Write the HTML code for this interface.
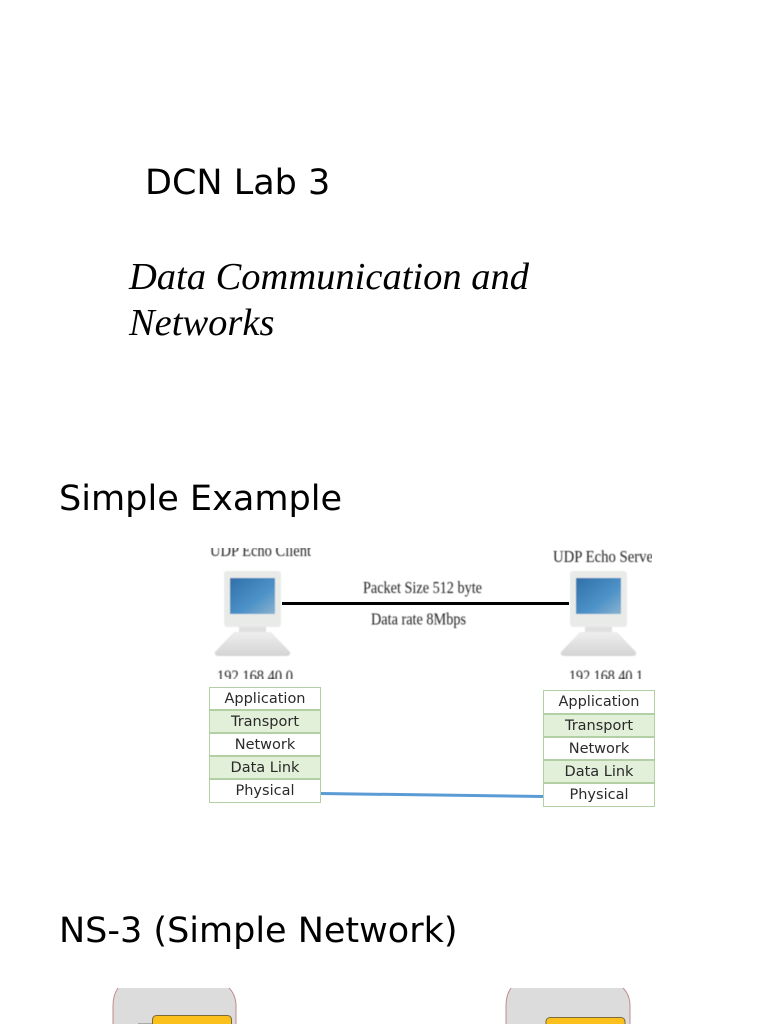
<!DOCTYPE html>
<html>
<head>
<meta charset="utf-8">
<style>
html,body{margin:0;padding:0;background:#fff;}
#p{position:relative;width:768px;height:1024px;overflow:hidden;background:#fff;}
.t{position:absolute;white-space:nowrap;color:#000;font-family:"DejaVu Sans",sans-serif;line-height:1;}
.s{position:absolute;width:112px;height:22px;box-sizing:border-box;border:1px solid #b2d0a4;text-align:center;font:14.5px/23px "DejaVu Sans",sans-serif;color:#2a2a2a;background:#fff;white-space:nowrap;filter:blur(.25px);}
.g{background:#e2efd9;}
svg{position:absolute;left:0;top:0;}
svg text{font-family:"Liberation Serif",serif;fill:#222;}
</style>
</head>
<body>
<div id="p">
<div class="t" style="left:145px;top:166px;font-size:35px;">DCN Lab 3</div>
<div class="t" style="left:129px;top:254px;font:italic 38.5px/46px 'Liberation Serif',serif;">Data Communication and<br>Networks</div>
<div class="t" style="left:59px;top:481px;font-size:35.1px;">Simple Example</div>
<div class="t" style="left:59px;top:914px;font-size:35px;">NS-3 (Simple Network)</div>

<svg width="768" height="1024" viewBox="0 0 768 1024">
<defs>
<linearGradient id="sc" x1="0" y1="0" x2="1" y2="1"><stop offset="0" stop-color="#2f70a8"/><stop offset=".6" stop-color="#4d92c8"/><stop offset="1" stop-color="#8ab2cf"/></linearGradient>
<linearGradient id="bs" x1="0" y1="0" x2="0" y2="1"><stop offset="0" stop-color="#eeeeee"/><stop offset="1" stop-color="#d4d4d4"/></linearGradient>
<filter id="b" x="-5%" y="-5%" width="110%" height="110%"><feGaussianBlur stdDeviation=".45"/></filter>
<clipPath id="c"><rect x="205" y="548" width="447" height="131"/></clipPath>
<g id="pc">
<rect x="0" y="0" width="57" height="56" rx="3" fill="#e9ebe9"/>
<rect x="6" y="7" width="45" height="36" fill="url(#sc)"/>
<rect x="15" y="56" width="27" height="5" fill="#e0e0e0"/>
<path d="M10 61H47L66 81Q67 85 62 85H-5Q-10 85 -9 81Z" fill="url(#bs)"/>
</g>
</defs>
<g clip-path="url(#c)">
<g filter="url(#b)">
<text x="210" y="556" font-size="17" textLength="101" lengthAdjust="spacingAndGlyphs">UDP Echo Client</text>
<text x="553" y="562" font-size="17" textLength="105" lengthAdjust="spacingAndGlyphs">UDP Echo Server</text>
<text x="217" y="681.5" font-size="17" textLength="76" lengthAdjust="spacingAndGlyphs">192.168.40.0</text>
<text x="569" y="681.5" font-size="17" textLength="74" lengthAdjust="spacingAndGlyphs">192.168.40.1</text>
<use href="#pc" x="224" y="571"/>
<use href="#pc" x="570" y="571"/>
<text x="363" y="593" font-size="17" textLength="119" lengthAdjust="spacingAndGlyphs">Packet Size 512 byte</text>
<text x="371" y="624.5" font-size="17" textLength="95" lengthAdjust="spacingAndGlyphs">Data rate 8Mbps</text>
</g>
<rect x="282" y="602" width="287" height="3" fill="#000"/>
</g>
<line x1="321" y1="793.5" x2="543" y2="796.5" stroke="#5b9bd5" stroke-width="3"/>
<!-- bottom shapes -->
<path d="M113 1024V1006Q113 995 118 988H229Q236 995 236 1006V1024Z" fill="#dcdcdc"/>
<path d="M113 1024V1006Q113 995 118 988M229 988Q236 995 236 1006V1024" fill="none" stroke="#c58a8e"/>
<path d="M506 1024V1006Q506 995 511 988H623Q630 995 630 1006V1024Z" fill="#dcdcdc"/>
<path d="M506 1024V1006Q506 995 511 988M623 988Q630 995 630 1006V1024" fill="none" stroke="#c58a8e"/>
<rect x="138" y="1023" width="14" height="1" fill="#aaa"/>
<rect x="152.5" y="1015.5" width="79" height="14" rx="4" fill="#fbc01c" stroke="#7a6a3a"/>
<rect x="546" y="1017.5" width="79" height="14" rx="4" fill="#fbc01c" stroke="#7a6a3a"/>
</svg>

<div class="s" style="left:209px;top:687px;height:23px;">Application</div>
<div class="s g" style="left:209px;top:710px;height:23px;">Transport</div>
<div class="s" style="left:209px;top:733px;height:23px;">Network</div>
<div class="s g" style="left:209px;top:756px;height:23px;">Data Link</div>
<div class="s" style="left:209px;top:779px;height:24px;">Physical</div>

<div class="s" style="left:543px;top:690px;height:24px;">Application</div>
<div class="s g" style="left:543px;top:714px;height:23px;">Transport</div>
<div class="s" style="left:543px;top:737px;height:23px;">Network</div>
<div class="s g" style="left:543px;top:760px;height:23px;">Data Link</div>
<div class="s" style="left:543px;top:783px;height:24px;">Physical</div>
</div>
</body>
</html>
